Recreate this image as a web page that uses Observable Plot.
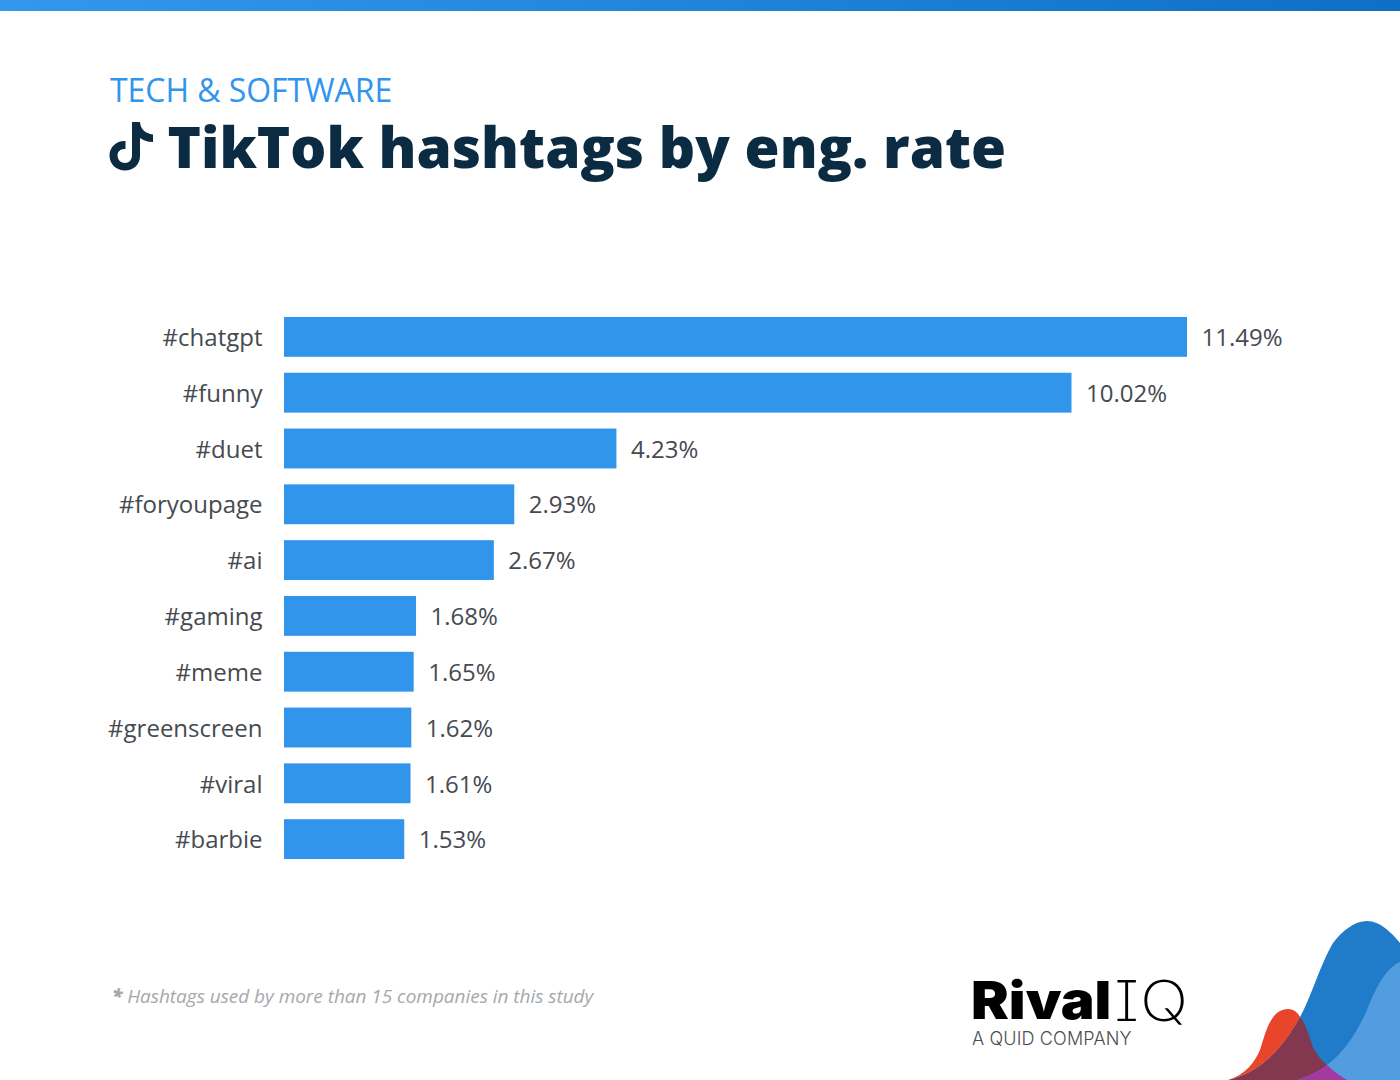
<!DOCTYPE html>
<html>
<head>
<meta charset="utf-8">
<script src="https://cdn.jsdelivr.net/npm/d3@7"></script>
<script src="https://cdn.jsdelivr.net/npm/@observablehq/plot@0.6"></script>
<style>
html,body{margin:0;padding:0;background:#fff;}
#page{position:relative;width:1400px;height:1080px;overflow:hidden;font-family:"Open Sans",sans-serif;}
#bar{position:absolute;left:0;top:0;width:1400px;height:11px;background:linear-gradient(90deg,#3497ee,#0f6fc6);}
#kicker{position:absolute;left:110px;top:69px;font-size:32px;line-height:42px;color:#3295ec;letter-spacing:-0.05px;white-space:nowrap;}
#title{position:absolute;left:167.500px;top:107px;font-size:56.700px;line-height:78px;font-weight:800;color:#0b2b42;white-space:nowrap;}
#note{position:absolute;left:112px;top:983px;font-size:19px;line-height:26px;font-style:italic;color:#a6a8ab;white-space:nowrap;letter-spacing:-0.03px;}
#note b{font-weight:800;}
#icon{position:absolute;left:107px;top:119px;}
#chart{position:absolute;left:0;top:0;}
#blobs{position:absolute;left:0;top:0;}
.logo{position:absolute;white-space:nowrap;color:#000;}
</style>
</head>
<body>
<div id="page">
  <div id="chart"></div>
  <div id="bar"></div>
  <div id="kicker">TECH &amp; SOFTWARE</div>
  <svg id="icon" width="50" height="56" viewBox="0 0 50 56">
    <path d="M25 3 H33 C33.500 10 38 14.500 46 15.500 V23 C40 23 36 21 33 19 V37 C33 46 26 51.500 18 51.500 C9 51.500 2.500 45 2.500 36.500 C2.500 28 9.500 21.500 18.500 22 V30 C13.500 29.500 10.500 32.500 10.500 36.500 C10.500 41 14 44 18 44 C22 44 25 41 25 36.500 Z" fill="#0b2b42"/>
  </svg>
  <div id="title">TikTok hashtags by eng. rate</div>
  <div id="note"><b>*</b> Hashtags used by more than 15 companies in this study</div>
  <div class="logo" style="left:971px;top:983px;font:900 52px/36px Inter,sans-serif;letter-spacing:0;transform:scaleX(1.09);transform-origin:0 50%;">Rival</div>
  <div class="logo" style="left:1114px;top:981px;font:200 56px/40px Inter,sans-serif;font-feature-settings:'cv08' 1,'ss02' 1;transform:scaleX(1.14);transform-origin:0 50%;letter-spacing:0.5px;">IQ</div>
  <div class="logo" style="left:972px;top:1027px;font:300 18px/24px Inter,sans-serif;color:#4d4d4f;letter-spacing:0.15px;">A QUID COMPANY</div>
  <svg id="blobs" width="1400" height="1080" viewBox="0 0 1400 1080">
    <path d="M1230 1080 C1262 1072 1285 1045 1300 1017 C1310 1000 1320 965 1333 943 C1343 930 1355 921 1367 921 C1380 921 1392 933 1400 943 V1080 Z" fill="#207cc8"/>
    <path d="M1297 1080 C1308 1076 1318 1072 1327 1065 C1345 1052 1358 1030 1367 1010 C1378 982 1388 967 1400 962 V1080 Z" fill="#529ce0"/>
    <path d="M1228 1080 C1245 1075 1255 1062 1260 1050 C1265 1035 1270 1009 1288 1009 C1294 1009 1298 1013 1300 1017 C1285 1045 1262 1072 1228 1080 Z" fill="#e8452b"/>
    <path d="M1228 1080 C1262 1072 1285 1045 1300 1017 C1306 1024 1309 1036 1313 1047 C1317 1055 1322 1061 1327 1065 C1318 1072 1308 1076 1297 1080 Z" fill="#84384f"/>
    <path d="M1297 1080 C1308 1076 1318 1072 1327 1065 C1333 1071 1340 1076 1347 1080 Z" fill="#a43a9f"/>
  </svg>
</div>
<script>
const tags = ["#chatgpt","#funny","#duet","#foryoupage","#ai","#gaming","#meme","#greenscreen","#viral","#barbie"];
const rates = [11.49,10.02,4.23,2.93,2.67,1.68,1.65,1.62,1.61,1.53];
const rows = tags.map((tag,i)=>({tag,rate:rates[i]}));
const plot = Plot.plot({
  width:1400,height:1080,
  marginLeft:284,marginRight:213,marginTop:301,marginBottom:205,
  style:{fontFamily:'"Open Sans",sans-serif',background:"transparent"},
  x:{domain:[0,11.49],axis:null},
  y:{domain:tags,padding:0.2857,round:false,label:null},
  marks:[
    Plot.barX(rows,{x:"rate",y:"tag",fill:"#3295ec"}),
    Plot.axisY({tickSize:0,tickPadding:22,fontSize:24,color:"#464a50",label:null,dy:1}),
    Plot.text(rows,{x:"rate",y:"tag",text:d=>d.rate.toFixed(2)+"%",textAnchor:"start",dx:14,dy:1,fontSize:24,fill:"#464a50"})
  ]
});
document.getElementById("chart").appendChild(plot);
</script>
</body>
</html>
